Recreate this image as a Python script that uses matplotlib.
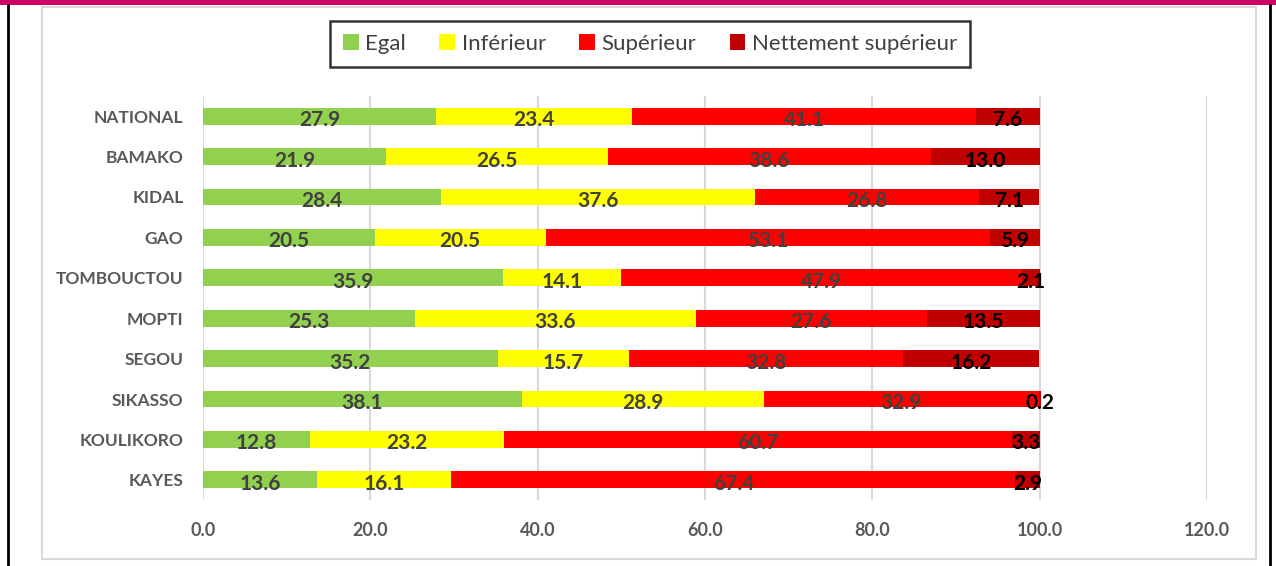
import matplotlib.pyplot as plt
from matplotlib.patches import Rectangle
from matplotlib.lines import Line2D
import numpy as np

categories = ["NATIONAL", "BAMAKO", "KIDAL", "GAO", "TOMBOUCTOU", "MOPTI",
              "SEGOU", "SIKASSO", "KOULIKORO", "KAYES"]
egal = [27.9, 21.9, 28.4, 20.5, 35.9, 25.3, 35.2, 38.1, 12.8, 13.6]
inferieur = [23.4, 26.5, 37.6, 20.5, 14.1, 33.6, 15.7, 28.9, 23.2, 16.1]
superieur = [41.1, 38.6, 26.8, 53.1, 47.9, 27.6, 32.8, 32.9, 60.7, 67.4]
nettement = [7.6, 13.0, 7.1, 5.9, 2.1, 13.5, 16.2, 0.2, 3.3, 2.9]
series_names = ["Egal", "Inférieur", "Supérieur", "Nettement supérieur"]
xticks = [0, 20, 40, 60, 80, 100, 120]

colors = ["#92D050", "#FFFF00", "#FF0000", "#C00000"]
label_colors = ["#404040", "#404040", "#404040", "#000000"]

plt.rcParams['font.family'] = ['Lato', 'DejaVu Sans']

W, H = 1276, 566
fig = plt.figure(figsize=(W / 100, H / 100), dpi=100)
fig.patch.set_facecolor("white")

# decorations: magenta strip, black outer lines, gray inner frame
fig.add_artist(Rectangle((0, 1 - 5 / H), 1, 5 / H, transform=fig.transFigure,
                         facecolor="#CC0066", edgecolor="none", zorder=0))
fig.add_artist(Line2D([8 / W, 8 / W], [0, 1 - 5 / H], transform=fig.transFigure,
                      color="black", lw=2))
fig.add_artist(Line2D([1270 / W, 1270 / W], [0, 1 - 5 / H], transform=fig.transFigure,
                      color="black", lw=2))
fig.add_artist(Rectangle((42 / W, 1 - 559 / H), (1256 - 42) / W, (559 - 7) / H,
                         transform=fig.transFigure, facecolor="white",
                         edgecolor="#D9D9D9", lw=1.5, zorder=0))

ax = fig.add_axes([203 / W, 1 - 500 / H, (1207 - 203) / W, (500 - 96) / H])
ax.set_facecolor("none")

y = np.arange(len(categories))
left = np.zeros(len(categories))
data = [egal, inferieur, superieur, nettement]
for vals, col, lc, name in zip(data, colors, label_colors, series_names):
    vals = np.array(vals)
    ax.barh(y, vals, left=left, height=0.42, color=col, label=name, zorder=2)
    for yi, l, v in zip(y, left, vals):
        ax.text(l + v / 2, yi + 0.1, f"{v:.1f}", ha="center", va="center",
                fontsize=15, fontweight="bold", color=lc, zorder=3)
    left = left + vals

ax.set_ylim(len(categories) - 0.5, -0.5)
ax.set_xlim(0, 120)
ax.set_xticks(xticks)
ax.set_xticklabels([f"{t:.1f}" for t in xticks])
ax.set_yticks(y)
ax.set_yticklabels(categories)
ax.tick_params(axis="x", length=0, pad=16, labelsize=13, labelcolor="#595959")
ax.tick_params(axis="y", length=0, pad=14, labelsize=12.5, labelcolor="#595959")
for lab in ax.get_xticklabels() + ax.get_yticklabels():
    lab.set_fontweight("bold")
ax.grid(axis="x", color="#D9D9D9", lw=1.5, zorder=0)
ax.set_axisbelow(True)
for s in ax.spines.values():
    s.set_visible(False)

leg = fig.legend(loc="center", bbox_to_anchor=(650 / W, 1 - 44 / H), ncol=4,
                 frameon=True, fancybox=False, fontsize=16, handlelength=0.7,
                 handleheight=0.7, handletextpad=0.3, columnspacing=1.5,
                 borderpad=0.6, borderaxespad=0)
leg.get_frame().set_edgecolor("black")
leg.get_frame().set_linewidth(1.8)
for t in leg.get_texts():
    t.set_color("#404040")

fig.savefig("out.png", dpi=100, facecolor="white")
